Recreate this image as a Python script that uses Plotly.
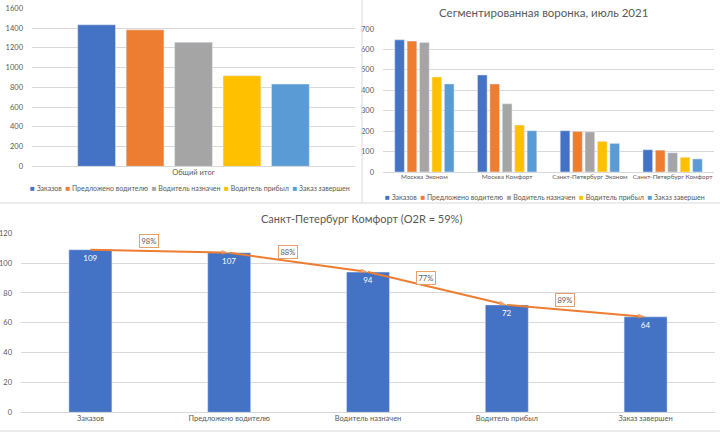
import plotly.graph_objects as go

# ---------------- data ----------------
stages = ["Заказов", "Предложено водителю", "Водитель назначен", "Водитель прибыл", "Заказ завершен"]
stage_colors = ["#4472C4", "#ED7D31", "#A5A5A5", "#FFC000", "#5B9BD5"]

total_category = ["Общий итог"]
total_values = [1433, 1382, 1256, 917, 833]

segments = ["Москва Эконом", "Москва Комфорт", "Санкт-Петербург Эконом", "Санкт-Петербург Комфорт"]
orders = [647, 475, 202, 109]
offered = [641, 431, 199, 107]
assigned = [634, 334, 196, 94]
arrived = [465, 230, 150, 72]
completed = [431, 202, 140, 64]
segment_series = [orders, offered, assigned, arrived, completed]

spb_comfort_values = [109, 107, 94, 72, 64]
step_conversion_labels = ["98%", "88%", "77%", "89%"]

title_segmented = "Сегментированная воронка, июль 2021"
title_spb = "Санкт-Петербург Комфорт (O2R = 59%)"

# ---------------- figure ----------------
FONT = "Lato, 'Open Sans', sans-serif"
TXT = "#595959"
GRID = "#D9D9D9"

fig = go.Figure()

# top-left: totals
for name, col, val in zip(stages, stage_colors, total_values):
    fig.add_trace(go.Bar(x=total_category, y=[val], name=name, marker_color=col,
                         xaxis="x", yaxis="y", showlegend=False))

# top-right: segmented funnel
for name, col, vals in zip(stages, stage_colors, segment_series):
    fig.add_trace(go.Bar(x=segments, y=vals, name=name, marker_color=col,
                         xaxis="x2", yaxis="y2", showlegend=False))

# bottom: SPb comfort
fig.add_trace(go.Bar(x=stages, y=spb_comfort_values, marker_color="#4472C4", width=0.31,
                     text=[str(v) for v in spb_comfort_values], textposition="inside",
                     insidetextanchor="end", textfont=dict(color="white", size=8, family=FONT),
                     xaxis="x3", yaxis="y3", showlegend=False, cliponaxis=False))
n = len(spb_comfort_values)
fig.add_trace(go.Scatter(x=stages, y=spb_comfort_values, mode="lines+markers",
                         line=dict(color="#ED7D31", width=2),
                         marker=dict(symbol=["circle"] + ["arrow"] * (n - 1),
                                     size=[0] + [8] * (n - 1), color="#ED7D31",
                                     angleref="previous", line=dict(width=0)),
                         xaxis="x3", yaxis="y3", showlegend=False))

annotations = []
for i, lab in enumerate(step_conversion_labels):
    mid = (spb_comfort_values[i] + spb_comfort_values[i + 1]) / 2
    annotations.append(dict(x=i + 0.42, y=mid + 7, xref="x3", yref="y3", text=lab,
                            xanchor="center", yanchor="middle",
                            showarrow=False, font=dict(size=7.5, color=TXT, family=FONT),
                            bgcolor="white", bordercolor="#E9A06A", borderwidth=1, borderpad=1.5))

def legend_text():
    parts = [f"<span style='color:{c};font-size:8px'>■</span> {s}" for s, c in zip(stages, stage_colors)]
    return "&nbsp;&nbsp;".join(parts)

def paper_note(x_px, y_px, text, size):
    return dict(x=x_px / 720, y=1 - y_px / 432, xref="paper", yref="paper", text=text,
                xanchor="center", yanchor="middle", showarrow=False,
                font=dict(size=size, color=TXT, family=FONT))

annotations.append(paper_note(190, 188, legend_text(), 7))
annotations.append(paper_note(545, 196.5, legend_text(), 7))
annotations.append(paper_note(543, 13, title_segmented, 11.5))
annotations.append(paper_note(361, 218, title_spb, 11))

tickfont = dict(size=7.5, color=TXT, family=FONT)
xcommon = dict(showgrid=False, zeroline=False, showline=False, ticks="",
               tickangle=0, automargin=False, fixedrange=True)
ycommon = dict(showgrid=True, gridcolor=GRID, gridwidth=1, zeroline=True, zerolinecolor=GRID,
               zerolinewidth=1, showline=False, ticks="", tickfont=tickfont, ticklabelstandoff=8,
               automargin=False, fixedrange=True)

fig.update_layout(
    width=720, height=432, margin=dict(l=0, r=0, t=0, b=0, autoexpand=False),
    paper_bgcolor="white", plot_bgcolor="white",
    font=dict(family=FONT, color=TXT),
    barmode="group", bargap=0.25, bargroupgap=0.22,
    xaxis=dict(domain=[32 / 720, 355 / 720], anchor="y", tickfont=tickfont, **xcommon),
    yaxis=dict(domain=[1 - 166.3 / 432, 1 - 8.3 / 432], anchor="x", range=[0, 1600], dtick=200, **ycommon),
    xaxis2=dict(domain=[383 / 720, 714 / 720], anchor="y2",
                tickfont=dict(size=6.4, color=TXT, family=FONT), **xcommon),
    yaxis2=dict(domain=[1 - 172 / 432, 1 - 29 / 432], anchor="x2", range=[0, 700], dtick=100, **ycommon),
    xaxis3=dict(domain=[21 / 720, 715 / 720], anchor="y3", tickfont=tickfont, **xcommon),
    yaxis3=dict(domain=[1 - 412.3 / 432, 1 - 233.3 / 432], anchor="x3", range=[0, 120], dtick=20, **ycommon),
    annotations=annotations,
    shapes=[
        dict(type="line", xref="paper", yref="paper", x0=362 / 720, x1=362 / 720, y0=1 - 203 / 432, y1=1,
             line=dict(color=GRID, width=1)),
        dict(type="line", xref="paper", yref="paper", x0=0, x1=1, y0=1 - 203 / 432, y1=1 - 203 / 432,
             line=dict(color=GRID, width=1)),
        dict(type="line", xref="paper", yref="paper", x0=0, x1=1, y0=1 - 431 / 432, y1=1 - 431 / 432,
             line=dict(color=GRID, width=1)),
    ],
)

fig.write_html("out.html", config={"displayModeBar": False},
               post_script="document.body.style.margin='0';")
